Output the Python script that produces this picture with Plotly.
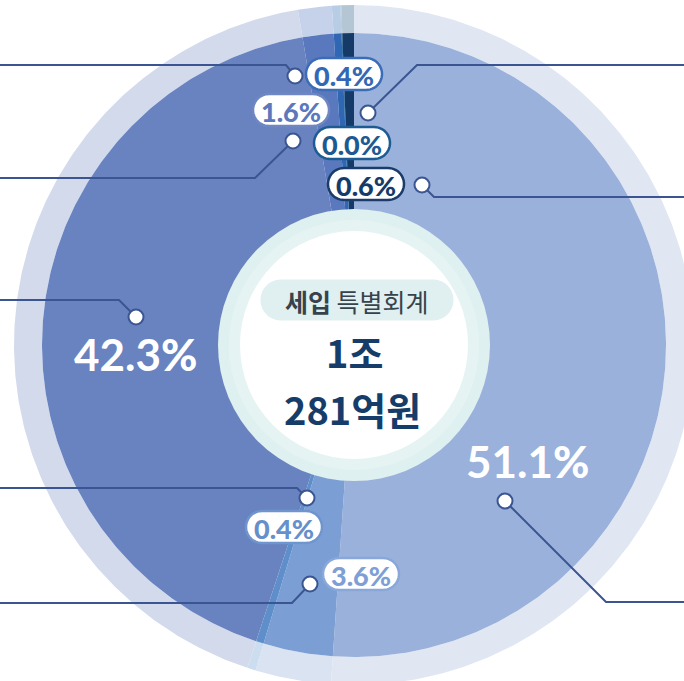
import numpy as np
import plotly.graph_objects as go

# ---------------- data ----------------
slice_labels = ["51.1%", "3.6%", "0.4%", "42.3%", "1.6%", "0.4%", "0.0%", "0.6%"]
slice_values = [51.1, 3.6, 0.4, 42.3, 1.6, 0.4, 0.04, 0.6]   # 0.0% slice drawn as a hairline
center_title = "세입 특별회계"
center_total = ["1조", "281억원"]

# ---------------- styles ----------------
slice_colors = ["#9AB1DB", "#7B9FD4", "#5F8FCB", "#6983C0", "#5A78BE", "#3067B5", "#0E5C93", "#163A68"]
ring_colors = ["#E0E7F3", "#D9E3F2", "#CCDDEF", "#D3DAEC", "#C6D2E9", "#B7CDE6", "#AAC6D8", "#B4C5D4"]
pill_text_colors = [None, "#7E9FD6", "#6690CB", None, "#5B78BD", "#3468B5", "#1C5A92", "#173B69"]
pill_border_colors = [None, "#8AA7D9", "#6F95CE", None, "#6E87C3", "#3A6CB7", "#1D5B93", "#1B3C6B"]

W, H = 684, 681
CX, CY = 354, 345
R_IN, R_MID, R_OUT = 128, 312, 340

# label positions (pixel space) for each slice
label_pos = [(527, 461), (361, 574), (284, 527), (135, 354), (291, 110), (344, 74), (352, 143), (366, 184)]
pill_w, pill_h = 76, 32
# leader line routes: marker point first
leader_routes = [
    [(505, 501), (606, 602), (W, 602)],
    [(310, 584), (292, 603), (0, 603)],
    [(307, 498), (297, 488), (0, 488)],
    [(136, 317), (119, 300), (0, 300)],
    [(293, 141), (255, 178), (0, 178)],
    [(295, 76), (286, 65), (0, 65)],
    [(368, 113), (417, 65), (W, 65)],
    [(422, 185), (434, 197), (W, 197)],
]

LINE_COLOR = "#3A5592"
NUM_FONT = "Lato"
KR_FONT = "Noto Sans CJK KR"


def wedge(a0, a1, r0, r1):
    n = max(4, int(abs(a1 - a0) / (np.pi / 360)) + 2)
    a = np.linspace(a0, a1, n)
    xo = CX + r1 * np.sin(a)
    yo = CY - r1 * np.cos(a)
    xi = CX + r0 * np.sin(a[::-1])
    yi = CY - r0 * np.cos(a[::-1])
    return np.r_[xo, xi, xo[:1]], np.r_[yo, yi, yo[:1]]


def pill_path(cx, cy, w, h):
    r = h / 2
    lc, rc = cx - w / 2 + r, cx + w / 2 - r
    pts = []
    for t in np.linspace(-np.pi / 2, np.pi / 2, 24):
        pts.append((rc + r * np.cos(t), cy + r * np.sin(t)))
    for t in np.linspace(np.pi / 2, 3 * np.pi / 2, 24):
        pts.append((lc + r * np.cos(t), cy + r * np.sin(t)))
    return "M " + " L ".join(f"{x:.2f},{y:.2f}" for x, y in pts) + " Z"


fig = go.Figure()

total = sum(slice_values)
cum = np.cumsum([0] + slice_values)
angles = 2 * np.pi * cum / total

for i in range(len(slice_values)):
    a0, a1 = angles[i], angles[i + 1]
    x, y = wedge(a0, a1, R_MID, R_OUT)
    fig.add_trace(go.Scatter(x=x, y=y, mode="lines", fill="toself", fillcolor=ring_colors[i],
                             line=dict(width=0, color=ring_colors[i]), hoverinfo="skip", showlegend=False))
    x, y = wedge(a0, a1, R_IN, R_MID)
    fig.add_trace(go.Scatter(x=x, y=y, mode="lines", fill="toself", fillcolor=slice_colors[i],
                             line=dict(width=0, color=slice_colors[i]), hoverinfo="skip",
                             name=slice_labels[i], showlegend=False))

# leader lines
for route in leader_routes:
    xs = [p[0] for p in route]
    ys = [p[1] for p in route]
    fig.add_trace(go.Scatter(x=xs, y=ys, mode="lines", line=dict(color=LINE_COLOR, width=2),
                             hoverinfo="skip", showlegend=False))
fig.add_trace(go.Scatter(x=[r[0][0] for r in leader_routes], y=[r[0][1] for r in leader_routes],
                         mode="markers",
                         marker=dict(size=15, color="white", line=dict(color=LINE_COLOR, width=2)),
                         hoverinfo="skip", showlegend=False))

shapes = []
# center circles
shapes.append(dict(type="circle", xref="x", yref="y", x0=CX - 136, x1=CX + 136, y0=CY - 136, y1=CY + 136,
                   fillcolor="#DFF0F0", line=dict(width=0), layer="above"))
shapes.append(dict(type="circle", xref="x", yref="y", x0=CX - 125, x1=CX + 125, y0=CY - 125, y1=CY + 125,
                   fillcolor="#E6F3F3", line=dict(width=0), layer="above"))
shapes.append(dict(type="circle", xref="x", yref="y", x0=CX - 114, x1=CX + 114, y0=CY - 114, y1=CY + 114,
                   fillcolor="white", line=dict(width=0), layer="above"))
# title pill
shapes.append(dict(type="path", xref="x", yref="y", path=pill_path(357, 300, 193, 41),
                   fillcolor="#E0EFEF", line=dict(width=0), layer="above"))

annotations = []
for i, lab in enumerate(slice_labels):
    px, py = label_pos[i]
    num = lab[:-1]
    if pill_text_colors[i] is None:
        annotations.append(dict(x=px, y=py, xref="x", yref="y", showarrow=False,
                                text=f"<b>{num}</b>%", xanchor="center", yanchor="middle",
                                font=dict(family=NUM_FONT, size=44, color="white", weight=900)))
    else:
        shapes.append(dict(type="path", xref="x", yref="y", path=pill_path(px, py, pill_w, pill_h),
                           fillcolor="white", line=dict(width=2.5, color=pill_border_colors[i]),
                           layer="above"))
        annotations.append(dict(x=px, y=py + 1, xref="x", yref="y", showarrow=False,
                                text=f"{num}%", xanchor="center", yanchor="middle",
                                font=dict(family=NUM_FONT, size=27, color=pill_text_colors[i], weight=900)))

t1, t2 = center_title.split(" ", 1)
annotations.append(dict(x=357, y=301, xref="x", yref="y", showarrow=False,
                        text=f"<b>{t1}</b> {t2}", xanchor="center", yanchor="middle",
                        font=dict(family=KR_FONT, size=25, color="#37434C")))
annotations.append(dict(x=354, y=380, xref="x", yref="y", showarrow=False,
                        text=center_total[0], xanchor="center", yanchor="bottom", borderpad=0,
                        font=dict(family=KR_FONT, size=38, color="#163D69", weight="bold")))
annotations.append(dict(x=352, y=380, xref="x", yref="y", showarrow=False,
                        text=center_total[1], xanchor="center", yanchor="top", borderpad=0,
                        font=dict(family=KR_FONT, size=38, color="#163D69", weight="bold")))

fig.update_layout(
    width=W, height=H, margin=dict(l=0, r=0, t=0, b=0),
    paper_bgcolor="white", plot_bgcolor="white",
    xaxis=dict(range=[0, W], visible=False, fixedrange=True),
    yaxis=dict(range=[H, 0], visible=False, fixedrange=True),
    shapes=shapes, annotations=annotations, showlegend=False,
)

fig.write_html("out.html", config={"displayModeBar": False},
               post_script="document.body.style.margin='0';document.body.style.overflow='hidden';")
